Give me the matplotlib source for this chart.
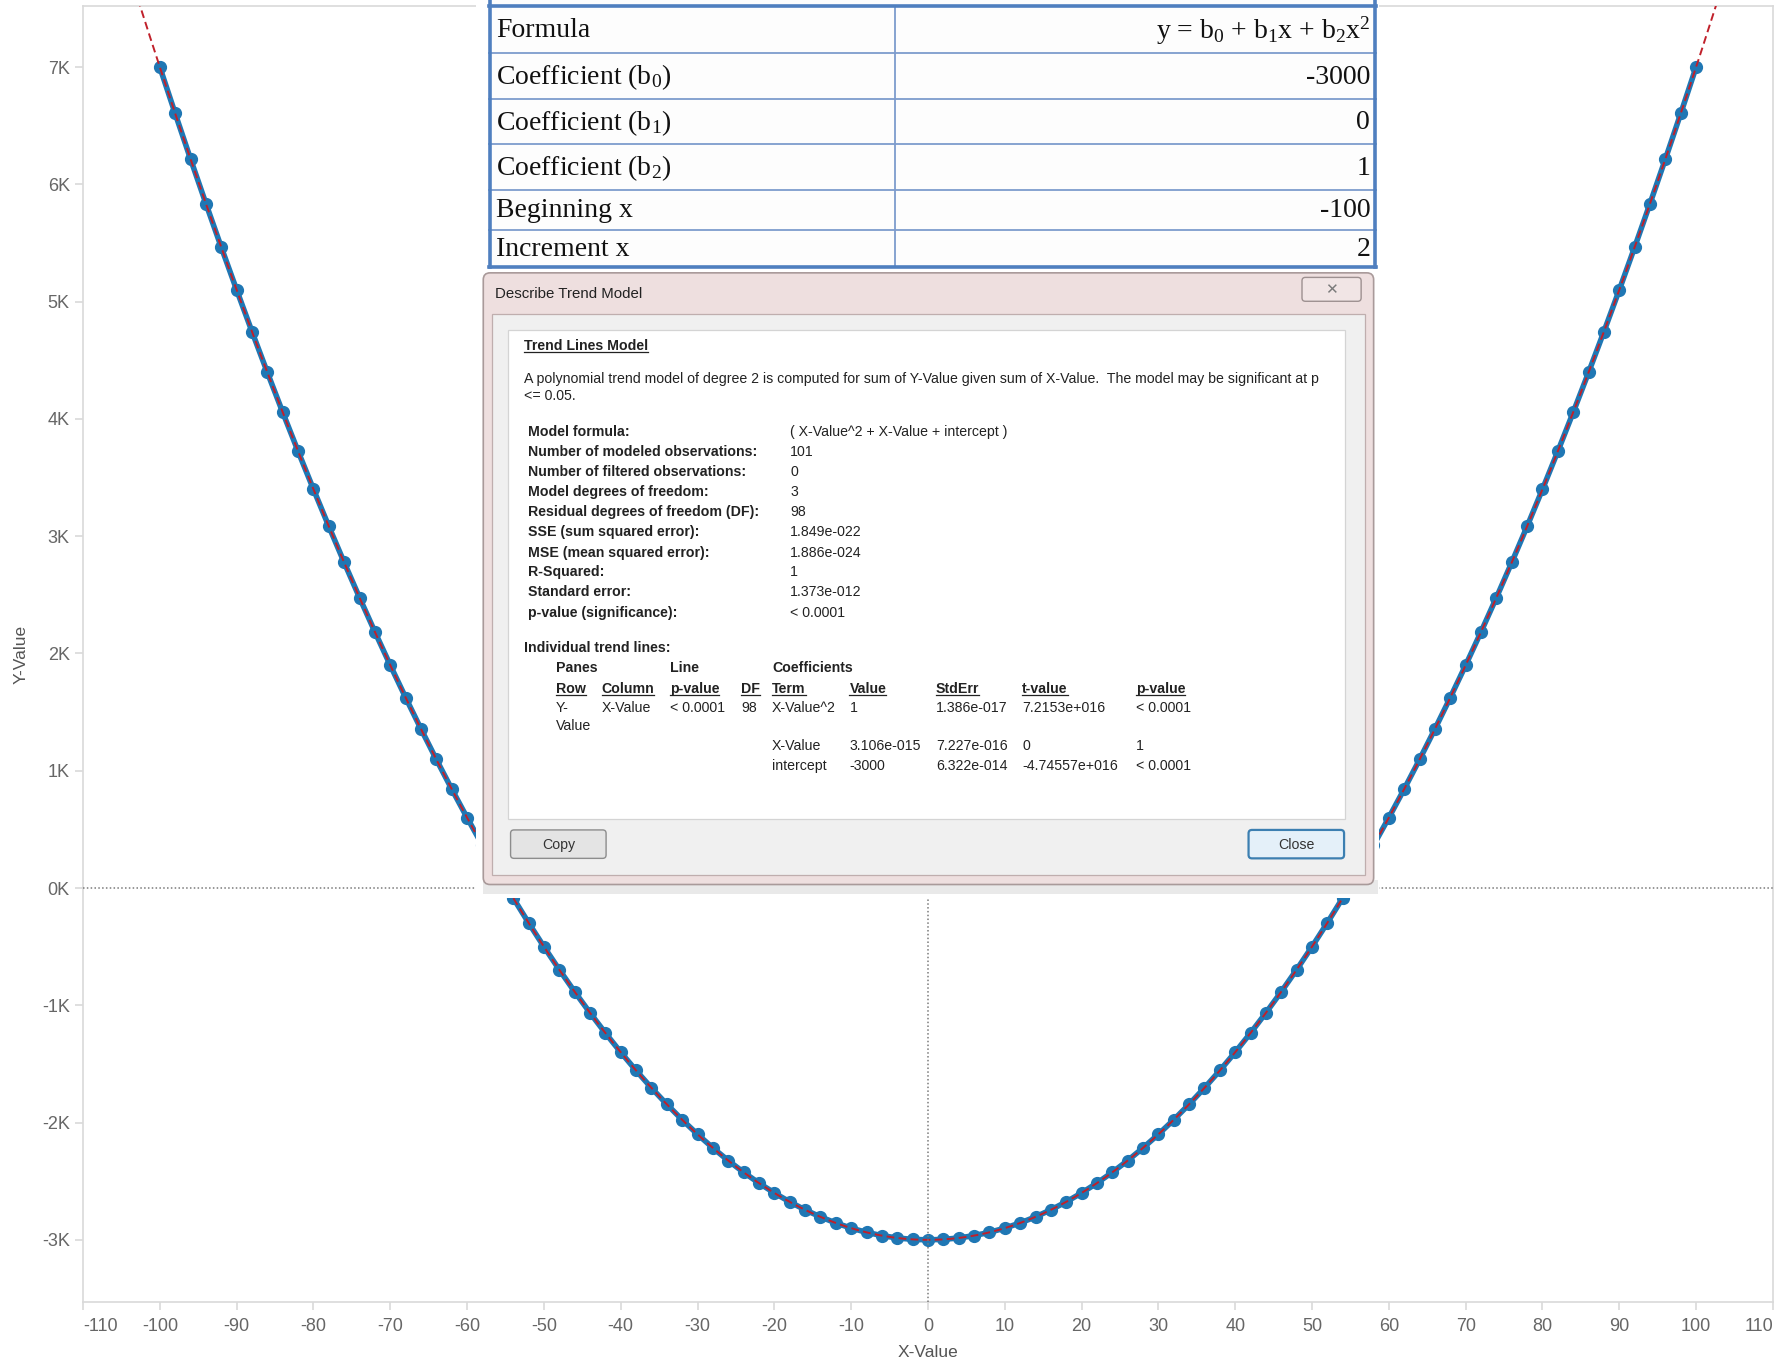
import numpy as np
import matplotlib.pyplot as plt
from matplotlib.patches import Rectangle, FancyBboxPatch

# series: X-Value / Y-Value
x_value = [-100, -98, -96, -94, -92, -90, -88, -86, -84, -82, -80, -78, -76, -74, -72,
           -70, -68, -66, -64, -62, -60, -58, -56, -54, -52, -50, -48, -46, -44, -42,
           -40, -38, -36, -34, -32, -30, -28, -26, -24, -22, -20, -18, -16, -14, -12,
           -10, -8, -6, -4, -2, 0, 2, 4, 6, 8, 10, 12, 14, 16, 18, 20, 22, 24, 26, 28,
           30, 32, 34, 36, 38, 40, 42, 44, 46, 48, 50, 52, 54, 56, 58, 60, 62, 64, 66,
           68, 70, 72, 74, 76, 78, 80, 82, 84, 86, 88, 90, 92, 94, 96, 98, 100]
y_value = [7000, 6604, 6216, 5836, 5464, 5100, 4744, 4396, 4056, 3724, 3400, 3084, 2776,
           2476, 2184, 1900, 1624, 1356, 1096, 844, 600, 364, 136, -84, -296, -500, -696,
           -884, -1064, -1236, -1400, -1556, -1704, -1844, -1976, -2100, -2216, -2324,
           -2424, -2516, -2600, -2676, -2744, -2804, -2856, -2900, -2936, -2964, -2984,
           -2996, -3000, -2996, -2984, -2964, -2936, -2900, -2856, -2804, -2744, -2676,
           -2600, -2516, -2424, -2324, -2216, -2100, -1976, -1844, -1704, -1556, -1400,
           -1236, -1064, -884, -696, -500, -296, -84, 136, 364, 600, 844, 1096, 1356,
           1624, 1900, 2184, 2476, 2776, 3084, 3400, 3724, 4056, 4396, 4744, 5100, 5464,
           5836, 6216, 6604, 7000]

# trend model coefficients
b0, b1, b2 = -3000, 0, 1

x_ticks = [-110, -100, -90, -80, -70, -60, -50, -40, -30, -20, -10, 0,
           10, 20, 30, 40, 50, 60, 70, 80, 90, 100, 110]
y_ticks = [-3000, -2000, -1000, 0, 1000, 2000, 3000, 4000, 5000, 6000, 7000]
y_tick_labels = ['-3K', '-2K', '-1K', '0K', '1K', '2K', '3K', '4K', '5K', '6K', '7K']

# parameter table
table_labels = ['Formula', 'Coefficient (b$_0$)', 'Coefficient (b$_1$)',
                'Coefficient (b$_2$)', 'Beginning x', 'Increment x']
table_values = ['y = b$_0$ + b$_1$x + b$_2$x$^2$', '-3000', '0', '1', '-100', '2']

# describe trend model dialog
stat_labels = ['Model formula:', 'Number of modeled observations:',
               'Number of filtered observations:', 'Model degrees of freedom:',
               'Residual degrees of freedom (DF):', 'SSE (sum squared error):',
               'MSE (mean squared error):', 'R-Squared:', 'Standard error:',
               'p-value (significance):']
stat_values = ['( X-Value^2 + X-Value + intercept )', '101', '0', '3', '98',
               '1.849e-022', '1.886e-024', '1', '1.373e-012', '< 0.0001']
coef_header = ['Row', 'Column', 'p-value', 'DF', 'Term', 'Value', 'StdErr', 't-value', 'p-value']
coef_rows = [
    ['Y-', 'X-Value', '< 0.0001', '98', 'X-Value^2', '1', '1.386e-017', '7.2153e+016', '< 0.0001'],
    ['Value', '', '', '', '', '', '', '', ''],
    ['', '', '', '', 'X-Value', '3.106e-015', '7.227e-016', '0', '1'],
    ['', '', '', '', 'intercept', '-3000', '6.322e-014', '-4.74557e+016', '< 0.0001'],
]

plt.rcParams['font.family'] = ['Liberation Sans', 'DejaVu Sans']
plt.rcParams['mathtext.fontset'] = 'custom'
plt.rcParams['mathtext.rm'] = 'Liberation Serif'
plt.rcParams['mathtext.it'] = 'Liberation Serif'

fig = plt.figure(figsize=(17.83, 13.62), dpi=100)
ax = fig.add_axes([0.04655, 0.04405, 0.9478, 0.9515])

ax.axhline(0, color='#7a7a7a', lw=1.1, ls=(0, (1, 1.5)), zorder=4)
ax.axvline(0, color='#7a7a7a', lw=1.1, ls=(0, (1, 1.5)), zorder=4)

ax.plot(x_value, y_value, color='#1f77b4', lw=4, marker='o', ms=8.5, zorder=2)

tx = np.linspace(-112, 112, 500)
ax.plot(tx, b0 + b1 * tx + b2 * tx ** 2, color='#c0202a', lw=1.4,
        ls=(0, (4, 2.2)), zorder=3)

ax.set_xlim(-110, 110)
ax.set_ylim(-3530, 7520)
ax.set_xticks(x_ticks)
ax.set_xticklabels([str(v) for v in x_ticks])
ax.set_yticks(y_ticks)
ax.set_yticklabels(y_tick_labels)
for s in ax.spines.values():
    s.set_color('#d9d9d9')
    s.set_linewidth(1.2)
ax.tick_params(axis='x', direction='out', length=5.5, width=1.2, color='#d9d9d9',
               labelsize=13, labelcolor='#666666', pad=6)
ax.tick_params(axis='y', direction='out', length=6, width=1.2, color='#d9d9d9',
               labelsize=13, labelcolor='#666666', pad=3.5)
xl = ax.get_xticklabels()
xl[0].set_horizontalalignment('left')
xl[-1].set_horizontalalignment('right')

ax.set_xlabel('X-Value', fontsize=12.5, color='#555555')
ax.set_ylabel('Y-Value', fontsize=12.5, color='#555555')
ax.xaxis.set_label_coords(0.5, -0.0335)
ax.yaxis.set_label_coords(-0.0323, 0.5)

# overlay drawn in pixel space
ov = fig.add_axes([0, 0, 1, 1], zorder=10)
ov.set_xlim(0, 1568)
ov.set_ylim(1198, 0)
ov.axis('off')
ov.patch.set_alpha(0)

ov.add_patch(Rectangle((419, 0), 794, 790, fc='white', ec='none'))
ov.add_patch(Rectangle((425, 774), 787, 12, fc='#e9e9e9', ec='none'))

# table
row_y = [5, 47, 87, 127, 167, 202, 235]
ov.add_patch(Rectangle((430, 0), 780, 235, fc='#fdfdfd', ec='none'))
for y in row_y[1:-1]:
    ov.plot([430, 1210], [y, y], color='#7d9ccd', lw=1.3)
ov.plot([787, 787], [row_y[0], row_y[-1]], color='#7d9ccd', lw=1.3)
ov.plot([430, 1210], [5, 5], color='#4f7fbf', lw=2.6)
ov.plot([430, 1210], [235, 235], color='#4f7fbf', lw=2.6)
ov.plot([431, 431], [0, 235], color='#4f7fbf', lw=2.6)
ov.plot([1209, 1209], [0, 235], color='#4f7fbf', lw=2.6)
for i, (lab, val) in enumerate(zip(table_labels, table_values)):
    yc = (row_y[i] + row_y[i + 1]) / 2 + 1
    ov.text(436, yc, lab, family='Liberation Serif', fontsize=20, color='#111111',
            va='center', ha='left')
    ov.text(1205, yc, val, family='Liberation Serif', fontsize=20, color='#111111',
            va='center', ha='right')

# dialog frame
ov.add_patch(FancyBboxPatch((425, 240), 783, 538, boxstyle='round,pad=0,rounding_size=6',
                            fc='#eedfdf', ec='#a99a9a', lw=1.2))
ov.add_patch(Rectangle((433, 276), 767, 494, fc='#f0f0f0', ec='#bfaeae', lw=0.9))
ov.add_patch(Rectangle((447, 290), 736, 430, fc='white', ec='#d4d4d4', lw=0.9))
ov.text(435, 259, 'Describe Trend Model', fontsize=10.8, color='#222222', va='center')
ov.add_patch(FancyBboxPatch((1145, 244), 52, 21, boxstyle='round,pad=0,rounding_size=3',
                            fc='#f1e5e5', ec='#9d9090', lw=1))
ov.text(1171, 254.5, '\u2715', family='DejaVu Sans', fontsize=11, color='#7a7a7a',
        ha='center', va='center')

# buttons
ov.add_patch(FancyBboxPatch((449, 730), 84, 25, boxstyle='round,pad=0,rounding_size=3',
                            fc='#e4e4e4', ec='#8c8c8c', lw=1))
ov.text(491, 743, 'Copy', fontsize=10.2, color='#333333', ha='center', va='center')
ov.add_patch(FancyBboxPatch((1098, 730), 84, 25, boxstyle='round,pad=0,rounding_size=3',
                            fc='#e4f0f9', ec='#3c7fb1', lw=1.6))
ov.text(1140, 743, 'Close', fontsize=10.2, color='#333333', ha='center', va='center')

body = dict(fontsize=10.2, color='#222222', va='center', ha='left')
underlined = []
t = ov.text(461, 304, 'Trend Lines Model', fontweight='bold', **body)
underlined.append(t)
ov.text(461, 333, 'A polynomial trend model of degree 2 is computed for sum of Y-Value '
        'given sum of X-Value.  The model may be significant at p', **body)
ov.text(461, 348.5, '<= 0.05.', **body)

stat_y = [380, 397.5, 415, 433, 450.5, 468, 486, 503.5, 521, 539]
for y, lab, val in zip(stat_y, stat_labels, stat_values):
    ov.text(464, y, lab, fontweight='bold', **body)
    ov.text(695, y, val, **body)

ov.text(461, 570, 'Individual trend lines:', fontweight='bold', **body)
ov.text(489, 588, 'Panes', fontweight='bold', **body)
ov.text(589, 588, 'Line', fontweight='bold', **body)
ov.text(679, 588, 'Coefficients', fontweight='bold', **body)

col_x = [489, 529, 589, 652, 679, 747, 823, 899, 999]
for cx, h in zip(col_x, coef_header):
    underlined.append(ov.text(cx, 606, h, fontweight='bold', **body))
for ry, row in zip([623, 638.5, 656, 674], coef_rows):
    for cx, v in zip(col_x, row):
        if v:
            ov.text(cx, ry, v, **body)

# underline headings
fig.canvas.draw()
r = fig.canvas.get_renderer()
inv = ov.transData.inverted()
for t in underlined:
    bb = t.get_window_extent(r)
    (x0, y0), (x1, _) = inv.transform([(bb.x0, bb.y0), (bb.x1, bb.y1)])
    ov.plot([x0, x1], [y0 - 0.5, y0 - 0.5], color='#222222', lw=0.9)

fig.savefig('out.png', dpi=100)
